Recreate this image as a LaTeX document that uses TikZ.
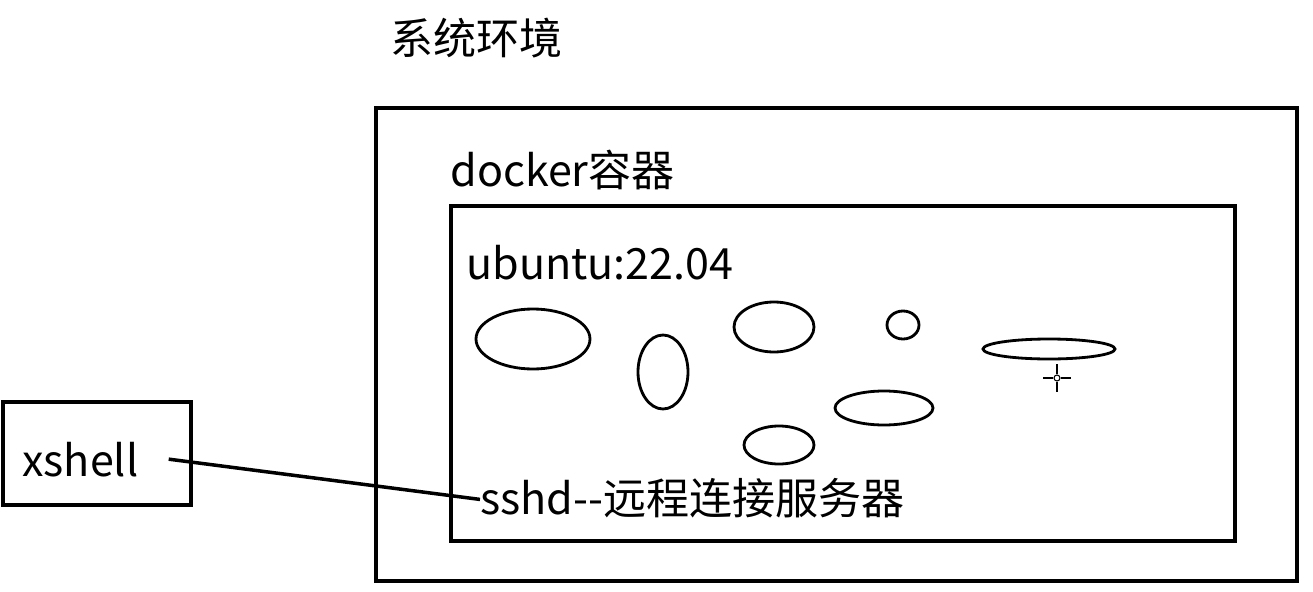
\documentclass[tikz,border=0pt]{standalone}
\usepackage{fontspec}
\setmainfont{Noto Sans CJK SC}
\begin{document}
\begin{tikzpicture}[x=0.02cm, y=-0.02cm,
    label/.style={font=\fontsize{24.5}{28}\selectfont, inner sep=0pt},
    frame/.style={draw, line width=2.2pt},
    blob/.style={draw, line width=1.6pt}]

    \useasboundingbox (0,0) rectangle (1313,592);

    % Boxes
    \draw[frame] (376,108) rectangle (1297,581);
    \draw[frame] (451,206) rectangle (1235,541);
    \draw[frame] (3,402) rectangle (191,505);

    % Labels
    \node[label, anchor=base west] (env) at (390,54) {系统环境};
    \node[label, anchor=base west] (docker) at (450,186) {docker容器};
    \node[label, anchor=base west] (ubuntu) at (466,279) {ubuntu:22.04};
    \node[label, anchor=base west] (xshell) at (22,476) {xshell};
    \node[label, anchor=base west] (sshd) at (480,514) {sshd{-}{-}远程连接服务器};

    % Processes
    \draw[blob] (533,339) ellipse (57 and 30);
    \draw[blob] (663,372) ellipse (25 and 37);
    \draw[blob] (774,327) ellipse (40 and 25);
    \draw[blob] (903,325) ellipse (16 and 14);
    \draw[blob] (1049,349) ellipse (66 and 10);
    \draw[blob] (884,408) ellipse (49 and 17);
    \draw[blob] (779,445) ellipse (35 and 19);

    % Cursor
    \draw[line width=0.6pt] (1057,378) circle (3);
    \foreach \dx/\dy in {1/0, -1/0, 0/1, 0/-1} {
        \draw[line width=0.8pt] ({1057+4*\dx},{378+4*\dy}) -- ({1057+14*\dx},{378+14*\dy});
    }

    % Connection
    \draw[line width=2pt] ([xshift=0.6cm]xshell.east) -- ([yshift=-1pt]sshd.west);

\end{tikzpicture}
\end{document}
